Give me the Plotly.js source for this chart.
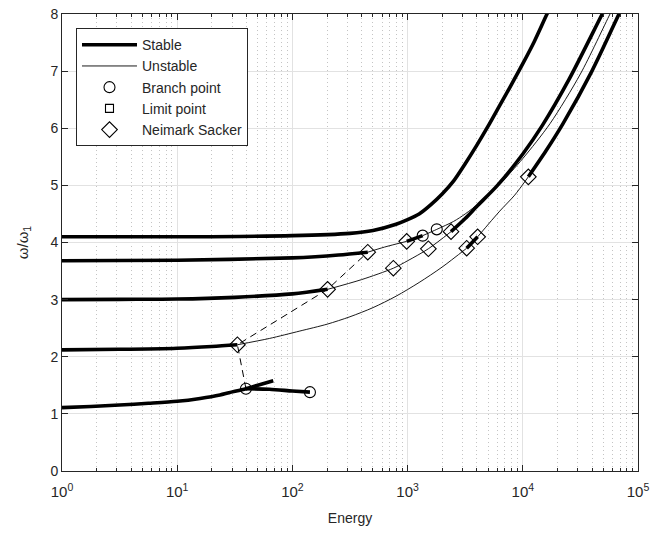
<!DOCTYPE html>
<html>
<head>
<meta charset="utf-8">
<script src="https://cdn.plot.ly/plotly-3.0.1.min.js"></script>
<style>html,body{margin:0;padding:0;background:#fff;}#chart{width:656px;height:541px;}</style>
</head>
<body>
<div id="chart"></div>
<script>
// ---- Data (Energy, omega/omega_1) ----
// Lowest branch (starts ~1.1)
const aStableE = [1, 1.78, 3.16, 5.62, 10, 15.8, 23.5, 28.2, 39.5, 50.1, 68.2];
const aStableW = [1.11, 1.13, 1.155, 1.185, 1.22, 1.27, 1.33, 1.37, 1.44, 1.50, 1.58];
const aBranchE = [39.5, 63.1, 100, 142];
const aBranchW = [1.44, 1.43, 1.40, 1.38];

// Branch starting ~2.12
const bStable1E = [1, 3.16, 10, 20, 33.3];
const bStable1W = [2.12, 2.13, 2.15, 2.18, 2.21];
const bUnstable1E = [33.3, 63.1, 116, 200, 316, 501, 794, 1259, 1995, 3258];
const bUnstable1W = [2.21, 2.32, 2.45, 2.57, 2.70, 2.86, 3.06, 3.30, 3.57, 3.90];
const bStable2E = [3258, 4055];
const bStable2W = [3.90, 4.10];
const bUnstable2E = [4055, 6310, 8511, 11170];
const bUnstable2W = [4.10, 4.55, 4.83, 5.15];
const bStable3E = [11170, 15850, 22340, 39810, 68390, 74130];
const bStable3W = [5.15, 5.60, 6.08, 7.00, 8.00, 8.15];

// Branch starting ~3.0
const cStable1E = [1, 3.16, 10, 31.6, 100, 202];
const cStable1W = [3.00, 3.005, 3.01, 3.04, 3.10, 3.18];
const cUnstable1E = [202, 398, 752, 1000, 1514, 2382];
const cUnstable1W = [3.18, 3.35, 3.55, 3.68, 3.89, 4.19];
const cStable2E = [2382, 3162, 3981, 6026, 10000, 14790, 25120, 48980, 53700];
const cStable2W = [4.19, 4.42, 4.63, 5.00, 5.55, 6.05, 6.85, 8.00, 8.15];

// Branch starting ~3.68
const dStable1E = [1, 10, 100, 158.5, 251, 451];
const dStable1W = [3.68, 3.69, 3.73, 3.75, 3.78, 3.83];
const dUnstable1E = [451, 631, 982];
const dUnstable1W = [3.83, 3.92, 4.02];
const dStable2E = [982, 1352];
const dStable2W = [4.02, 4.12];
const dUnstable2E = [1352, 1791, 2512, 3162, 4246, 6310, 10000, 17220, 31620, 57150, 63100];
const dUnstable2W = [4.12, 4.23, 4.37, 4.50, 4.70, 5.02, 5.47, 6.08, 6.95, 8.00, 8.17];

// Top branch starting ~4.1
const eStableE = [1, 10, 100, 316, 501, 794, 1000, 1259, 1585, 1995, 2512, 3162, 3981, 5012, 6310, 7943, 10000, 12590, 16220, 17780];
const eStableW = [4.10, 4.10, 4.12, 4.16, 4.21, 4.32, 4.40, 4.50, 4.66, 4.85, 5.08, 5.38, 5.70, 6.04, 6.40, 6.76, 7.13, 7.52, 8.00, 8.16];

// Bifurcation points
const branchPtE = [39.5, 142, 1352, 1791];
const branchPtW = [1.44, 1.38, 4.12, 4.23];
const limitPtE = [null];   // no limit points on the curves (legend entry only)
const limitPtW = [null];
const nsPtE = [33.3, 202, 451, 752, 982, 1514, 2382, 3258, 4055, 11170];
const nsPtW = [2.21, 3.18, 3.83, 3.55, 4.02, 3.89, 4.19, 3.90, 4.10, 5.15];

// Neimark-Sacker (dashed) curve
const nsCurveE = [39.5, 33.3, 202, 451];
const nsCurveW = [1.44, 2.21, 3.18, 3.83];

// ---- Build traces ----
const INK = '#000000';
const THICK = 3.6, THIN = 0.9;
const segments = [
  [eStableE, eStableW, true],
  [dUnstable1E, dUnstable1W, false],
  [aStableE, aStableW, true],
  [aBranchE, aBranchW, true],
  [bStable1E, bStable1W, true],
  [bUnstable1E, bUnstable1W, false],
  [bStable2E, bStable2W, true],
  [bUnstable2E, bUnstable2W, false],
  [bStable3E, bStable3W, true],
  [cStable1E, cStable1W, true],
  [cUnstable1E, cUnstable1W, false],
  [cStable2E, cStable2W, true],
  [dStable1E, dStable1W, true],
  [dStable2E, dStable2W, true],
  [dUnstable2E, dUnstable2W, false]
];
const traces = [];
let shownStable = false, shownUnstable = false;
segments.forEach(function (s) {
  const stable = s[2];
  let show = false;
  if (stable && !shownStable) { show = true; shownStable = true; }
  if (!stable && !shownUnstable) { show = true; shownUnstable = true; }
  traces.push({
    x: s[0], y: s[1], type: 'scatter', mode: 'lines',
    name: stable ? 'Stable' : 'Unstable',
    showlegend: show,
    line: {color: INK, width: stable ? THICK : THIN, shape: 'spline', smoothing: 0.8},
    hoverinfo: 'skip'
  });
});
traces.push({
  x: nsCurveE, y: nsCurveW, type: 'scatter', mode: 'lines', showlegend: false,
  line: {color: INK, width: 1, dash: '7px,5px'}, hoverinfo: 'skip'
});
traces.push({
  x: branchPtE, y: branchPtW, type: 'scatter', mode: 'markers', name: 'Branch point',
  marker: {symbol: 'circle-open', size: 11, color: INK, line: {width: 1.1, color: INK}}
});
traces.push({
  x: limitPtE, y: limitPtW, type: 'scatter', mode: 'markers', name: 'Limit point',
  showlegend: true,
  marker: {symbol: 'square-open', size: 8, color: INK, line: {width: 1.1, color: INK}}
});
traces.push({
  x: nsPtE, y: nsPtW, type: 'scatter', mode: 'markers', name: 'Neimark Sacker',
  marker: {symbol: 'diamond-open', size: 12, color: INK, line: {width: 1.1, color: INK}}
});

const AX = '#262626';
const FONT = 'Liberation Sans, Arial, Helvetica, sans-serif';
const layout = {
  width: 656, height: 541,
  margin: {l: 62, r: 18, t: 14, b: 70},
  paper_bgcolor: '#ffffff', plot_bgcolor: '#ffffff',
  font: {family: FONT, size: 13, color: AX},
  showlegend: true,
  legend: {
    x: 0.0243, y: 0.969, xanchor: 'left', yanchor: 'top',
    bgcolor: '#ffffff', bordercolor: AX, borderwidth: 1,
    font: {family: FONT, size: 14, color: AX},
    itemwidth: 55, traceorder: 'normal'
  },
  xaxis: {
    type: 'log', range: [0, 5],
    tickmode: 'array',
    tickvals: [1, 10, 100, 1000, 10000, 100000],
    ticktext: ['10<sup>0</sup>', '10<sup>1</sup>', '10<sup>2</sup>', '10<sup>3</sup>', '10<sup>4</sup>', '10<sup>5</sup>'],
    ticks: 'inside', ticklen: 6, tickcolor: AX, tickwidth: 1,
    ticklabelstandoff: 7,
    showline: true, linecolor: AX, linewidth: 1, mirror: 'ticks',
    showgrid: true, gridcolor: '#e2e2e2', gridwidth: 1,
    zeroline: false,
    tickfont: {family: FONT, size: 15, color: AX},
    minor: {dtick: 'D1', ticks: 'inside', ticklen: 3, tickcolor: AX, showgrid: true, gridcolor: '#c4c4c4', griddash: '1px,3px', gridwidth: 1},
    title: {text: 'Energy', font: {family: FONT, size: 14, color: AX}, standoff: 14}
  },
  yaxis: {
    range: [0, 8], dtick: 1, tick0: 0,
    ticks: 'inside', ticklen: 6, tickcolor: AX, tickwidth: 1,
    showline: true, linecolor: AX, linewidth: 1, mirror: 'ticks',
    showgrid: true, gridcolor: '#e2e2e2', gridwidth: 1,
    zeroline: false,
    tickfont: {family: FONT, size: 14, color: AX},
    title: {text: 'ω/ω<sub>1</sub>', font: {family: FONT, size: 15, color: AX}, standoff: 18}
  }
};
Plotly.newPlot('chart', traces, layout, {displayModeBar: false, staticPlot: true});
</script>
</body>
</html>
